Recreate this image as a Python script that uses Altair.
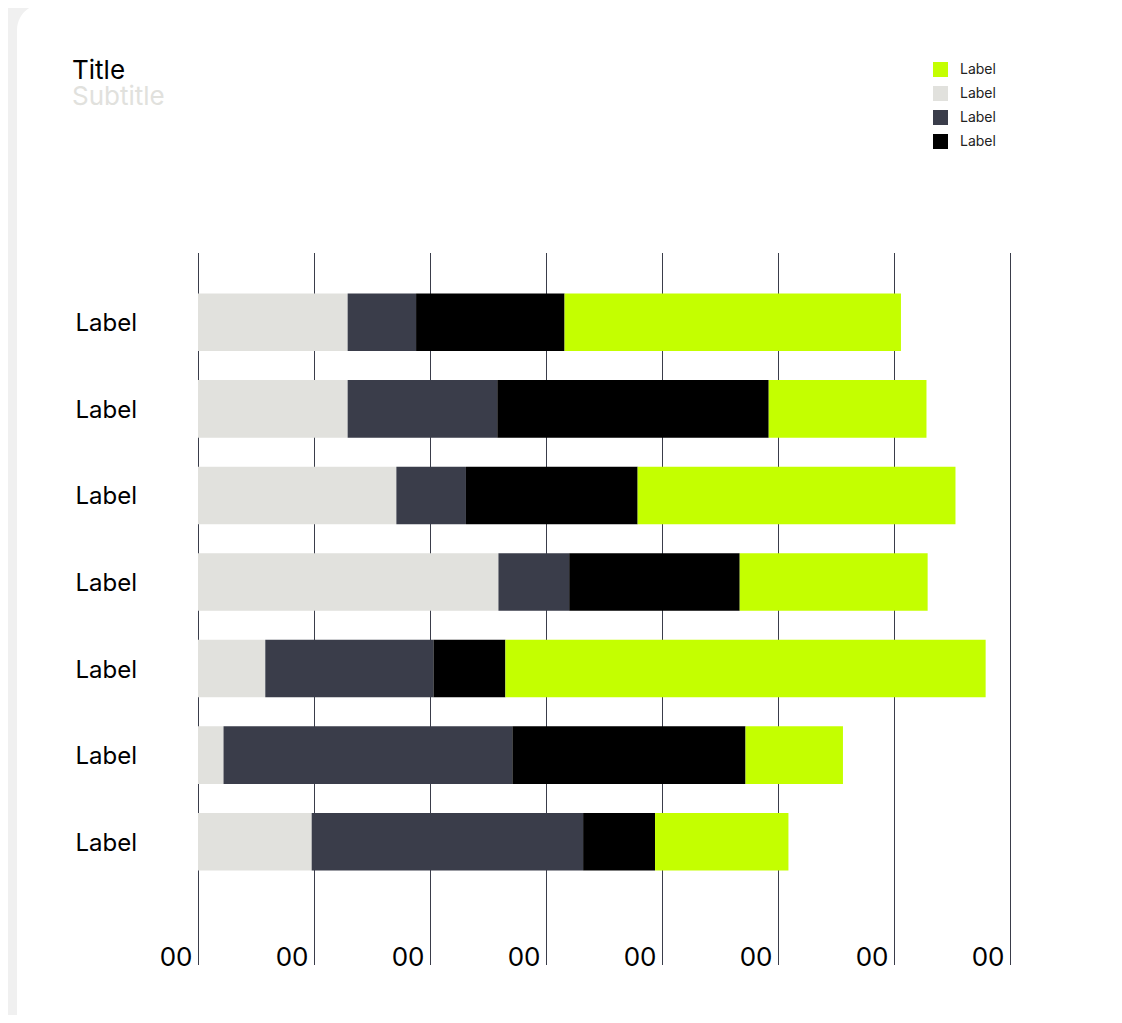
import altair as alt
import pandas as pd

# ---- data ----
categories = ["r1", "r2", "r3", "r4", "r5", "r6", "r7"]
series_ids = ["lime", "gray", "slate", "black"]          # legend order
series_colors = ["#c4ff00", "#e1e1dd", "#3a3d4a", "#000000"]
stack_order = {"gray": 0, "slate": 1, "black": 2, "lime": 3}

gray_vals = [1.29, 1.29, 1.71, 2.59, 0.58, 0.22, 0.98]
slate_vals = [0.59, 1.29, 0.60, 0.61, 1.45, 2.49, 2.34]
black_vals = [1.28, 2.34, 1.48, 1.47, 0.62, 2.01, 0.62]
lime_vals = [2.90, 1.36, 2.74, 1.62, 4.14, 0.84, 1.15]

tick_values = [0, 1, 2, 3, 4, 5, 6, 7]
tick_label = "00"
row_label = "Label"
legend_label = "Label"
title_text = "Title"
subtitle_text = "Subtitle"

# ---- table built from arrays ----
rows = []
for name, vals in [("gray", gray_vals), ("slate", slate_vals),
                   ("black", black_vals), ("lime", lime_vals)]:
    for cat, v in zip(categories, vals):
        rows.append({"row": cat, "series": name, "value": v,
                     "order": stack_order[name]})
df = pd.DataFrame(rows)
ticks_df = pd.DataFrame({"t": tick_values})
titles_df = pd.DataFrame({"txt": [title_text], "sub": [subtitle_text]})

W, H = 812, 712
FONT = "Inter"

xscale = alt.Scale(domain=[0, 7], nice=False, zero=True)
xaxis = alt.Axis(title=None, values=tick_values,
                 labelExpr=f"'{tick_label}'", labelAlign="right",
                 labelOffset=-6, labelBaseline="alphabetic",
                 labelPadding=0, labelFontSize=26, labelFont=FONT,
                 labelColor="#000000", ticks=False, domain=False,
                 grid=False, zindex=1, labelFlush=False,
                 labelOverlap=False)

card = alt.Chart(pd.DataFrame({"k": [0]})).mark_rect(
    color="#ffffff", cornerRadius=26
).encode(
    x=alt.value(-181), x2=alt.value(942),
    y=alt.value(-249), y2=alt.value(787)
)

grid = alt.Chart(ticks_df).mark_rule(
    color="#3a3d4a", strokeWidth=1, xOffset=0.5
).encode(
    x=alt.X("t:Q", scale=xscale, axis=xaxis),
    y=alt.value(0), y2=alt.value(H)
)

title_mark = alt.Chart(titles_df).mark_text(
    align="left", baseline="alphabetic", font=FONT, fontSize=26,
    color="#000000"
).encode(text="txt:N", x=alt.value(-126), y=alt.value(-174))

subtitle_mark = alt.Chart(titles_df).mark_text(
    align="left", baseline="alphabetic", font=FONT, fontSize=26,
    color="#e1e1dd"
).encode(text="sub:N", x=alt.value(-126), y=alt.value(-148))

bars = alt.Chart(df).mark_bar(cornerRadius=0).encode(
    y=alt.Y("row:N", sort=categories,
            scale=alt.Scale(domain=categories, range=[26, 632],
                            paddingInner=0.335, paddingOuter=0.1675),
            axis=alt.Axis(title=None, labelExpr=f"'{row_label}'",
                          labelAlign="left", labelPadding=123,
                          labelOffset=2,
                          labelFontSize=24, labelFont=FONT,
                          labelColor="#000000", ticks=False, domain=False,
                          grid=False, zindex=1)),
    x=alt.X("value:Q", stack="zero", scale=xscale, axis=xaxis),
    color=alt.Color("series:N",
                    scale=alt.Scale(domain=series_ids, range=series_colors),
                    legend=alt.Legend(title=None, orient="none",
                                      legendX=735, legendY=-191,
                                      labelExpr=f"'{legend_label}'",
                                      symbolType="square", symbolSize=225,
                                      symbolStrokeWidth=0, symbolOpacity=1,
                                      rowPadding=9, labelOffset=12,
                                      labelFontSize=14, labelFont=FONT,
                                      labelColor="#222222", padding=0)),
    order=alt.Order("order:Q")
)

chart = alt.layer(card, grid, title_mark, subtitle_mark, bars).properties(
    width=W, height=H,
    autosize=alt.AutoSizeParams(type="none"),
    padding={"left": 190, "top": 245, "right": 104, "bottom": 50},
).configure(background="#f0f0f0").configure_view(stroke=None)

chart.save("out.html", embed_options={"renderer": "svg", "actions": False})
